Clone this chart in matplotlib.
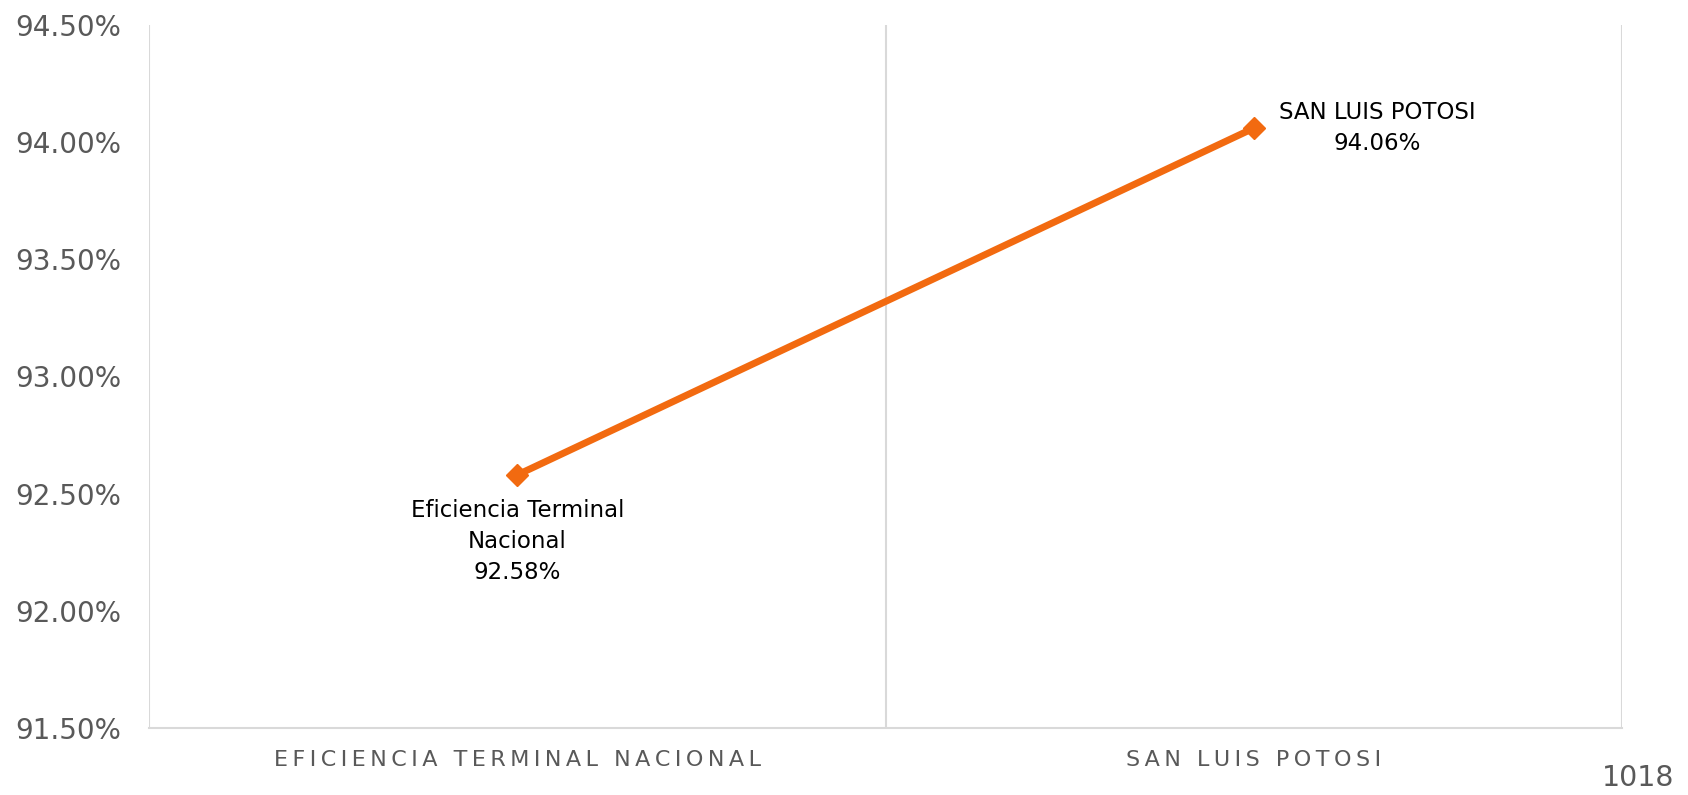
import matplotlib
matplotlib.use("Agg")
from matplotlib import pyplot as plt

categories = ["EFICIENCIA TERMINAL NACIONAL", "SAN LUIS POTOSI"]
point_labels = ["Eficiencia Terminal\nNacional", "SAN LUIS POTOSI"]
values = [92.58, 94.06]
y_ticks = [91.5, 92.0, 92.5, 93.0, 93.5, 94.0, 94.5]
page_number = "1018"

orange = "#F26A10"
grey_text = "#595959"
grid_grey = "#D9D9D9"


def spaced(s):
    # imitate the letter spacing of the category labels
    return "\u2009".join(list(s))


fig = plt.figure(figsize=(16.88, 7.95), dpi=100)
ax = fig.add_axes([0.0883, 0.0843, 0.8727, 0.8843])

x = [i + 0.5 for i in range(len(categories))]
ax.plot(x, values, color=orange, lw=5, marker="D", markersize=11,
        solid_capstyle="butt", zorder=3)

ax.set_xlim(0, len(categories))
ax.set_ylim(y_ticks[0], y_ticks[-1])
ax.set_yticks(y_ticks)
ax.set_yticklabels(["%.2f%%" % v for v in y_ticks], fontsize=20, color=grey_text)
ax.set_xticks(x)
ax.set_xticklabels([spaced(c) for c in categories], fontsize=16, color=grey_text)
ax.set_xticks(range(len(categories) + 1), minor=True)
ax.grid(which="minor", axis="x", color=grid_grey, lw=1.5)
ax.tick_params(axis="both", which="both", length=0)
ax.tick_params(axis="y", pad=20)
ax.tick_params(axis="x", pad=16)

for side in ["top", "left", "right"]:
    ax.spines[side].set_visible(False)
ax.spines["bottom"].set_color(grid_grey)
ax.spines["bottom"].set_linewidth(1.5)

# data labels
ax.annotate(point_labels[0] + "\n%.2f%%" % values[0], (x[0], values[0]),
            xytext=(0, -17), textcoords="offset points", ha="center", va="top",
            multialignment="center", fontsize=16.5, linespacing=1.45, color="black")
ax.annotate(point_labels[1] + "\n%.2f%%" % values[1], (x[1], values[1]),
            xytext=(18, 0), textcoords="offset points", ha="left", va="center",
            multialignment="center", fontsize=16.5, linespacing=1.45, color="black")

fig.text(0.992, 0.004, page_number, ha="right", va="bottom", fontsize=20.5, color=grey_text)

fig.savefig("out.png", dpi=100)
